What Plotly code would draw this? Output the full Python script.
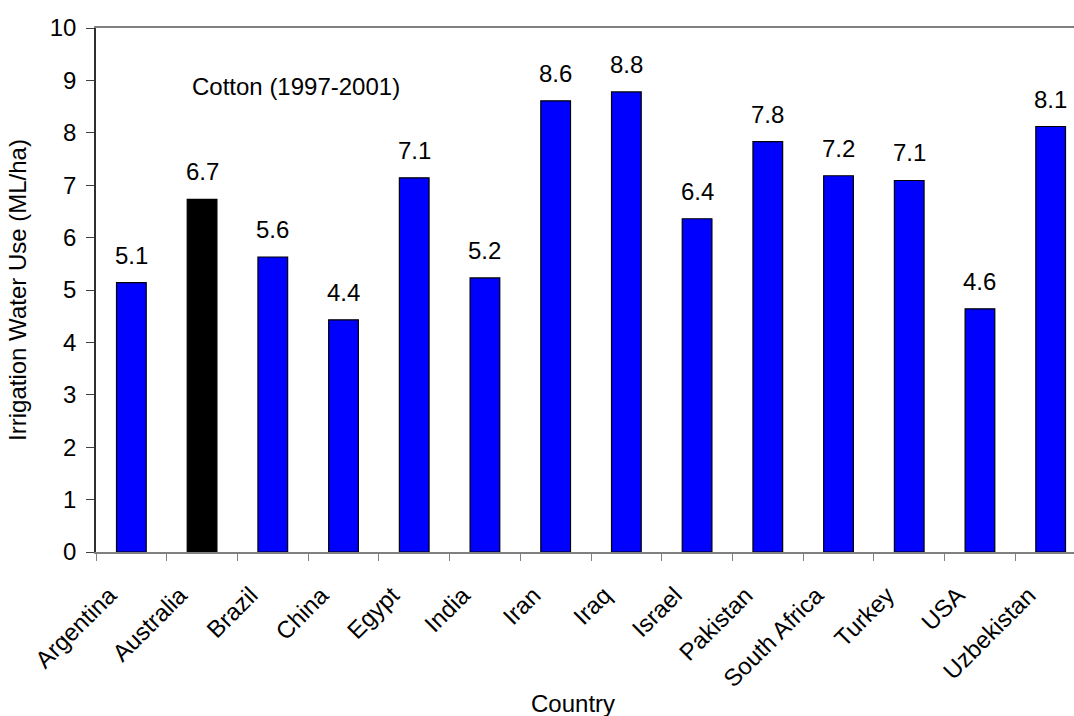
import plotly.graph_objects as go

countries = ["Argentina", "Australia", "Brazil", "China", "Egypt", "India", "Iran",
             "Iraq", "Israel", "Pakistan", "South Africa", "Turkey", "USA", "Uzbekistan"]
water_use = [5.14, 6.73, 5.63, 4.43, 7.14, 5.23, 8.61, 8.78, 6.36, 7.83, 7.18, 7.09, 4.64, 8.12]
highlight = "Australia"

FONT = "Liberation Sans, Arial, sans-serif"
SIZE = 24
bar_colors = ["#000000" if c == highlight else "#0000FF" for c in countries]

fig = go.Figure()
fig.add_trace(go.Bar(
    x=countries, y=water_use,
    marker=dict(color=bar_colors, line=dict(color="#000000", width=1.2)),
    width=0.42,
    hoverinfo="x+y",
))

# value labels above each bar
for c, v in zip(countries, water_use):
    fig.add_annotation(x=c, y=v, text=f"{v:.1f}", showarrow=False,
                       yanchor="bottom", yshift=12,
                       font=dict(family=FONT, size=SIZE, color="#000000"))

fig.add_annotation(x=0.0961, y=0.889, xref="paper", yref="paper", xanchor="left",
                   yanchor="middle", text="Cotton (1997-2001)", showarrow=False,
                   font=dict(family=FONT, size=SIZE, color="#000000"))

# x-axis title
fig.add_annotation(x=0.4877, y=-0.29, xref="paper", yref="paper", xanchor="center",
                   yanchor="middle", text="Country", showarrow=False,
                   font=dict(family=FONT, size=SIZE, color="#000000"))

fig.update_layout(
    width=1074, height=716,
    margin=dict(l=96, r=0, t=28, b=164),
    paper_bgcolor="white", plot_bgcolor="white",
    showlegend=False,
    font=dict(family=FONT, size=SIZE, color="#000000"),
)
fig.update_xaxes(
    type="category", range=[-0.5, 13.33],
    tickson="boundaries", ticks="outside", ticklen=7, tickcolor="#808080",
    tickangle=-45, tickfont=dict(family=FONT, size=SIZE),
    ticklabelstandoff=18, ticklabelshift=-22,
    showline=True, linecolor="#808080", linewidth=1.5, mirror=True,
    showgrid=False, automargin=False,
)
fig.update_yaxes(
    range=[0, 10], dtick=1, tick0=0,
    ticks="outside", ticklen=8, tickcolor="#404040",
    tickfont=dict(family=FONT, size=SIZE), ticklabelstandoff=5,
    showline=True, linecolor="#303030", linewidth=1.5,
    showgrid=False, zeroline=False, automargin=False,
    title=dict(text="Irrigation Water Use (ML/ha)", font=dict(family=FONT, size=SIZE), standoff=16),
)

fig.write_html("out.html")
